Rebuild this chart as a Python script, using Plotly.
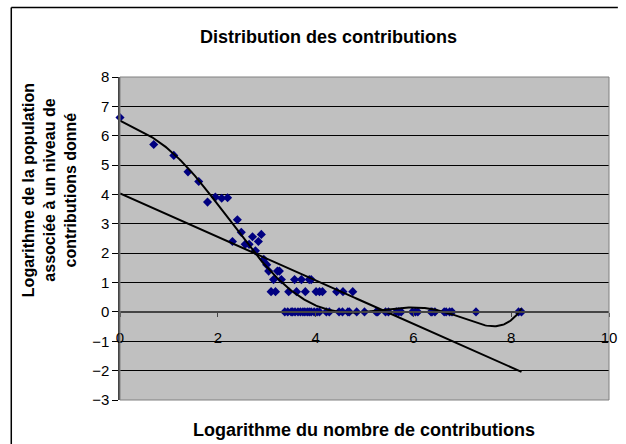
import numpy as np
import plotly.graph_objects as go

# Data: log(number of contributions) vs log(population)
x_vals = [0.00, 0.69, 1.10, 1.39, 1.61, 1.79, 1.95, 2.08, 2.20, 2.30, 2.40, 2.48,
          2.56, 2.64, 2.71, 2.77, 2.83, 2.89, 2.94, 3.00, 3.04, 3.09, 3.14, 3.18,
          3.22, 3.26, 3.30,
          3.57, 3.71, 3.87, 3.91,
          3.45, 3.61, 3.79, 4.01, 4.08, 4.14, 4.43, 4.56, 4.76,
          3.37, 3.43, 3.50, 3.53, 3.58, 3.64, 3.69, 3.74, 3.78, 3.83, 3.87, 3.91,
          3.97, 4.03, 4.08, 4.22, 4.28, 4.48, 4.55, 4.66, 4.69, 4.84, 5.00, 5.24,
          5.27, 5.43, 5.49, 5.65, 5.70, 5.75, 5.98, 6.04, 6.09, 6.36, 6.38, 6.44,
          6.63, 6.67, 6.74, 6.79, 7.28, 8.15, 8.21]
y_vals = [6.62, 5.70, 5.33, 4.77, 4.44, 3.74, 3.91, 3.87, 3.89, 2.40, 3.14, 2.71,
          2.30, 2.30, 2.56, 2.08, 2.40, 2.64, 1.79, 1.61, 1.39, 0.69, 1.10, 0.69,
          1.39, 1.39, 1.10,
          1.10, 1.10, 1.10, 1.10,
          0.69, 0.69, 0.69, 0.69, 0.69, 0.69, 0.69, 0.69, 0.69,
          0, 0, 0, 0, 0, 0, 0, 0, 0, 0, 0, 0,
          0, 0, 0, 0, 0, 0, 0, 0, 0, 0, 0, 0,
          0, 0, 0, 0, 0, 0, 0, 0, 0, 0, 0, 0,
          0, 0, 0, 0, 0, 0, 0]

x_range = [0, 10]
y_range = [-3, 8]

title_text = "Distribution des contributions"
x_title = "Logarithme du nombre de contributions"
y_title = "Logarithme de la population<br>associée à un niveau de<br>contributions donné"

xa = np.array(x_vals)
ya = np.array(y_vals)
xs = np.linspace(xa.min(), xa.max(), 300)
lin = np.polyval(np.polyfit(xa, ya, 1), xs)
poly = np.polyval(np.polyfit(xa, ya, 6), xs)

FONT = "Liberation Sans, Arial, sans-serif"

fig = go.Figure()
fig.add_trace(go.Scatter(x=x_vals, y=y_vals, mode="markers",
                         marker=dict(symbol="diamond", size=7, color="#000080"),
                         showlegend=False, cliponaxis=False))
fig.add_trace(go.Scatter(x=xs, y=poly, mode="lines",
                         line=dict(color="black", width=2), showlegend=False))
fig.add_trace(go.Scatter(x=xs, y=lin, mode="lines",
                         line=dict(color="black", width=2), showlegend=False))

L, R, T, B = 120, 9, 77, 44
W, H = 626, 444
pw, ph = W - L - R, H - T - B

def px(xp):
    return (xp - L) / pw

def py(yp):
    return (H - B - yp) / ph

fig.update_layout(
    width=W, height=H,
    margin=dict(l=L, r=R, t=T, b=B),
    paper_bgcolor="white",
    plot_bgcolor="#C0C0C0",
    font=dict(family=FONT, size=15, color="black"),
    xaxis=dict(range=x_range, dtick=2, showgrid=False, zeroline=False,
               showline=True, linecolor="#444", linewidth=1.5,
               ticks="outside", ticklen=4, tickcolor="#444",
               anchor="free", position=(0 - y_range[0]) / (y_range[1] - y_range[0]),
               ticklabelstandoff=8, tickfont=dict(size=15)),
    yaxis=dict(range=y_range, dtick=1, showgrid=True, gridcolor="black", gridwidth=1,
               zeroline=False, showline=True, linecolor="#444", linewidth=1.5,
               ticks="outside", ticklen=6, tickcolor="black",
               tickfont=dict(size=15), domain=[0, 1]),
    shapes=[
        dict(type="rect", xref="paper", yref="paper", x0=0, x1=1, y0=0, y1=1,
             line=dict(color="#808080", width=1), layer="above"),
        dict(type="line", xref="paper", yref="paper", x0=px(9.5), x1=px(626),
             y0=py(7.5), y1=py(7.5), line=dict(color="black", width=1.5)),
        dict(type="line", xref="paper", yref="paper", x0=px(9.5), x1=px(9.5),
             y0=py(7.5), y1=py(444), line=dict(color="black", width=1.5)),
    ],
    annotations=[
        dict(text="<b>" + title_text + "</b>", xref="paper", yref="paper",
             x=px(332), y=py(37), xanchor="center", yanchor="middle",
             showarrow=False, font=dict(size=18)),
        dict(text="<b>" + x_title + "</b>", xref="paper", yref="paper",
             x=px(368), y=py(430), xanchor="center", yanchor="middle",
             showarrow=False, font=dict(size=18)),
        dict(text="<b>" + y_title + "</b>", xref="paper", yref="paper",
             x=px(48), y=py(190), xanchor="center", yanchor="middle",
             showarrow=False, textangle=-90, font=dict(size=16)),
    ],
)

fig.write_html("out.html", config={"displayModeBar": False},
               post_script="document.body.style.margin='0';document.body.style.overflow='hidden';")
